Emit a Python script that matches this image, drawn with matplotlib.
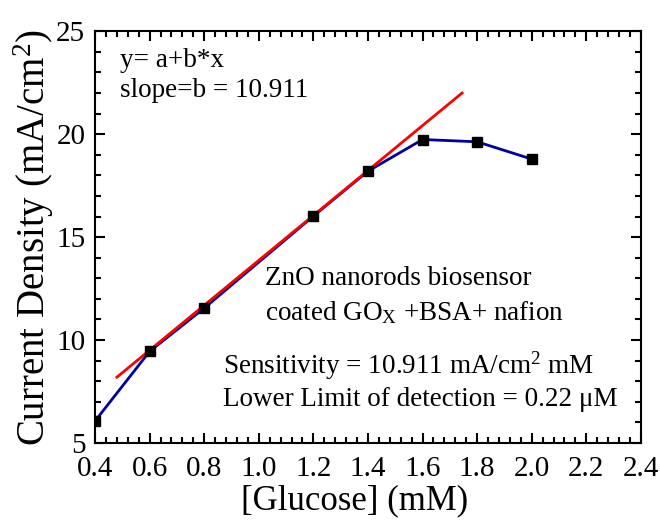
import numpy as np
import matplotlib
matplotlib.use("Agg")
import matplotlib.pyplot as plt
from matplotlib.ticker import MultipleLocator

plt.rcParams['font.family'] = ['Liberation Serif', 'DejaVu Serif']
plt.rcParams['mathtext.fontset'] = 'custom'
plt.rcParams['mathtext.rm'] = 'Liberation Serif'
plt.rcParams['mathtext.it'] = 'Liberation Serif'

glucose = [0.4, 0.6, 0.8, 1.2, 1.4, 1.6, 1.8, 2.0]
current = [6.07, 9.45, 11.55, 16.02, 18.2, 19.74, 19.63, 18.79]

fit_a = 2.96
fit_b = 10.911
fit_x = [0.48, 1.745]

fig = plt.figure(figsize=(6.6, 5.2), dpi=100)
ax = fig.add_axes([0.144, 0.148, 0.827, 0.792])

ax.plot(glucose, current, color="#0000a0", lw=2, zorder=2)
ax.plot(glucose, current, "s", color="black", ms=7, zorder=4)
fx = np.array(fit_x)
ax.plot(fx, fit_a + fit_b * fx, color="red", lw=2, zorder=3)

ax.set_xlim(0.4, 2.4)
ax.set_ylim(5, 25)
ax.xaxis.set_major_locator(MultipleLocator(0.2))
ax.xaxis.set_minor_locator(MultipleLocator(0.04))
ax.yaxis.set_major_locator(MultipleLocator(5))
ax.yaxis.set_minor_locator(MultipleLocator(1))
ax.set_xticklabels([f"{v:.1f}" for v in ax.get_xticks()])
ax.tick_params(which="both", direction="in", top=True, right=True, width=1.5)
ax.tick_params(which="major", length=7, labelsize=21)
ax.tick_params(axis="x", which="major", pad=9)
ax.tick_params(axis="y", which="major", pad=7)
ax.tick_params(which="minor", length=4)
for s in ax.spines.values():
    s.set_linewidth(1.5)

ax.set_xlabel("[Glucose] (mM)", fontsize=25)
ax.xaxis.set_label_coords(0.476, -0.1)
ax.set_ylabel("Current Density (mA/cm$^2$)", fontsize=28, labelpad=0)

fs = 19.5
ax.text(0.49, 23.6, "y= a+b*x", fontsize=fs, va="center")
ax.text(0.49, 22.1, "slope=b = 10.911", fontsize=fs, va="center")
ax.text(1.023, 13.0, "ZnO nanorods biosensor", fontsize=fs, va="center")
ax.text(1.023, 11.35, "coated GO$_\\mathregular{X}$ +BSA+ nafion", fontsize=fs, va="center")
ax.text(0.87, 8.75, "Sensitivity = 10.911 mA/cm$^\\mathregular{2}$ mM", fontsize=fs, va="center")
ax.text(0.87, 7.1, "Lower Limit of detection = 0.22 \u03bcM", fontsize=fs, va="center")

fig.savefig("out.png", dpi=100)
